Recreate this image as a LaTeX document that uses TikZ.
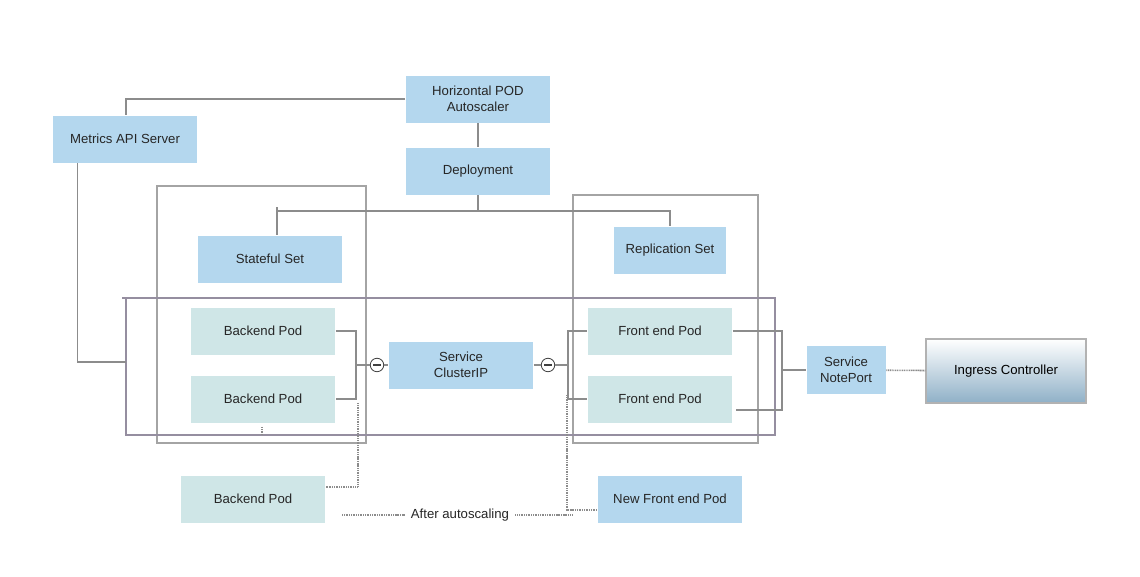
\documentclass[tikz,border=0pt]{standalone}
\usepackage{fontspec}
\setmainfont{Liberation Sans}
\usetikzlibrary{positioning}
\definecolor{boxblue}{HTML}{B4D7EE}
\definecolor{podteal}{HTML}{CFE6E7}
\definecolor{wire}{HTML}{8C8C8C}
\definecolor{frame}{HTML}{A4A4A4}
\definecolor{bigframe}{HTML}{958EA0}
\definecolor{ingbot}{HTML}{8FB0C7}
\tikzset{
  obj/.style={fill=boxblue, draw=white, line width=0.4pt, minimum width=2.9cm, minimum height=0.96cm,
    inner sep=1pt, align=center, text=black!85, font=\fontsize{7.5}{9}\selectfont},
  pod/.style={obj, fill=podteal},
  wireline/.style={draw=wire, line width=0.8pt},
  dotline/.style={draw=wire, line width=0.9pt, dotted, dash pattern=on 0.6pt off 0.4pt},
  knob/.style={circle, draw=black!75, fill=white, line width=0.45pt, minimum size=0.27cm, inner sep=0pt,
    path picture={\draw[black!75, line width=0.6pt] ([xshift=1.6pt]path picture bounding box.west) -- ([xshift=-1.6pt]path picture bounding box.east);}}
}
\begin{document}
\begin{tikzpicture}[x=0.02cm, y=-0.02cm]
\useasboundingbox (0,0) rectangle (1140,577);
% frames
\draw[frame, line width=0.8pt] (157,186) rectangle (366,443);
\draw[frame, line width=0.8pt] (573,195) rectangle (758,443);
\draw[bigframe, line width=1pt] (122,298) -- (775,298) -- (775,435) -- (126,435) -- (126,298);
% boxes
\node[obj] (hpa) at (478,99) {Horizontal POD\\Autoscaler};
\node[obj] (metrics) at (125,139) {Metrics API Server};
\node[obj] (dep) at (478,171) {Deployment};
\node[obj] (ss) at (270,259) {Stateful Set};
\node[obj, minimum width=2.26cm] (rs) at (670,250) {Replication Set};
\node[pod] (bp1) at (263,331) {Backend Pod};
\node[pod] (bp2) at (263,399) {Backend Pod};
\node[obj] (cip) at (461,365) {Service\\ClusterIP};
\node[pod] (fe1) at (660,331) {Front end Pod};
\node[pod] (fe2) at (660,399) {Front end Pod};
\node[obj, minimum width=1.6cm, minimum height=0.98cm] (np) at (846,370) {Service\\NotePort};
\node[obj, draw=black!30, line width=0.8pt, top color=white, bottom color=ingbot,
  minimum width=3.2cm, minimum height=1.28cm, text=black] (ing) at (1006,371) {Ingress Controller};
\node[pod] (bp3) at (253,499) {Backend Pod};
\node[obj] (nfe) at (670,499) {New Front end Pod};
\node[text=black!85, font=\fontsize{7.5}{9}\selectfont] (after) at (460,515) {After autoscaling};
\node[knob] (c1) at (377,365) {};
\node[knob] (c2) at (548,365) {};
% junctions
\coordinate (bus) at (478,211);
\coordinate (busl) at (277,211);
\coordinate (mh) at (126,362);
\coordinate (jb) at (356,365);
\coordinate (jf) at (568,365);
\coordinate (jn) at (782,370);
\coordinate (db) at (358,403);
\coordinate (df) at (567,395);
\coordinate (al) at (342,515);
\coordinate (ar) at (573,515);
% wires
\draw[wireline] (hpa.west) -| ([xshift=0.02cm]metrics.north);
\draw[wireline] (hpa) -- (dep);
\draw[wireline] (dep.south) -- (bus);
\draw[wireline] ([xshift=0.14cm]ss.north) -- ++(0,-28);
\draw[wireline] (busl) -| (rs.north);
\draw[wireline] ([xshift=-0.95cm]metrics.south) |- (mh);
\draw[wireline] (bp1.east) -| (jb) |- (bp2.east);
\draw[wireline] (jb) -- (c1) -- (cip);
\draw[wireline] (cip) -- (c2) -- (jf);
\draw[wireline] (fe1.west) -| (jf) |- (fe2.west);
\draw[wireline] (fe1.east) -| (jn) |- ([xshift=0.06cm, yshift=-0.22cm]fe2.east);
\draw[wireline] (jn) -- (np);
\draw[dotline] (np) -- (ing);
\draw[dotline] (db) |- ([yshift=0.24cm]bp3.east);
\draw[dotline] (df) |- ([yshift=-0.22cm]nfe.west);
\draw[dotline] (al) -- (after.west);
\draw[dotline] (after.east) -- (ar);
\draw[dotline] (262,427) -- (262,435);
\end{tikzpicture}
\end{document}
